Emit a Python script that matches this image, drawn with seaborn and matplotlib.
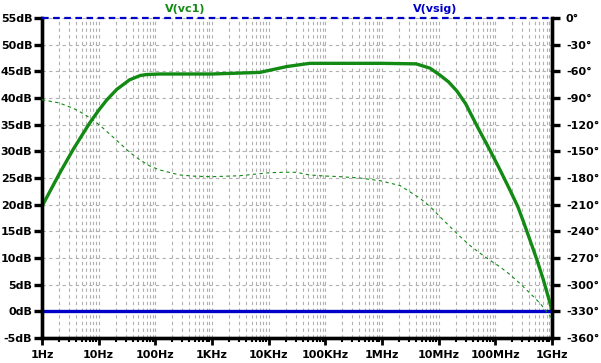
import numpy as np
import matplotlib
matplotlib.use("Agg")
import matplotlib.pyplot as plt
import matplotlib.ticker as mticker
import seaborn as sns

# V(vc1) magnitude (dB)
mag_freq = [1, 2, 3.57, 5, 7.03, 10, 13.8, 20.8, 35, 53.6, 70, 120, 1e3, 7e3, 21e3, 53e3,
            1e6, 4e6, 7e6, 10.5e6, 15e6, 21e6, 30e6, 40e6, 50e6, 80e6, 120e6, 181e6,
            250e6, 311e6, 420e6, 536e6, 700e6, 920e6, 1e9]
mag_db = [19.7, 25.7, 30.4, 32.9, 35.4, 37.7, 39.6, 41.6, 43.4, 44.2, 44.4, 44.5, 44.5,
          44.8, 45.9, 46.5, 46.5, 46.4, 45.6, 44.3, 43.0, 41.3, 38.9, 36.3, 34.3, 30.25,
          26.6, 22.75, 19.6, 16.9, 13.0, 9.8, 6.0, 1.6, 0.0]

# V(vc1) phase (deg)
ph_freq = [1, 2, 3.57, 5, 8, 12, 23.8, 35, 53.6, 80, 120, 270, 500, 1e3, 3e3, 10.6e3,
           20e3, 31e3, 53e3, 100e3, 182e3, 400e3, 0.92e6, 2.1e6, 4.7e6, 7e6, 10.5e6,
           16e6, 24e6, 35e6, 54e6, 80e6, 120e6, 180e6, 270e6, 400e6, 615e6, 800e6, 1e9]
ph_deg = [-92, -95.5, -101.6, -106.5, -114.7, -124, -141, -151, -159.7, -166.5, -171,
          -176.6, -178, -178.5, -177.5, -174, -173.5, -173.6, -176.6, -177.8, -178.5,
          -180, -183, -188.6, -202.9, -212, -223.5, -235, -246, -255.5, -264.7, -272.5,
          -279.8, -288.5, -298.5, -309, -321, -330, -338]

# V(vsig): flat 0 dB / 0 deg
sig_freq = [1, 1e9]
sig_db = [0, 0]
sig_deg = [0, 0]

freq_ticks = [1, 10, 100, 1e3, 1e4, 1e5, 1e6, 1e7, 1e8, 1e9]
freq_labels = ["1Hz", "10Hz", "100Hz", "1KHz", "10KHz", "100KHz", "1MHz", "10MHz", "100MHz", "1GHz"]
db_ticks = list(range(-5, 56, 5))
deg_ticks = list(range(-360, 1, 30))

GREEN = "#138a13"
BLUE = "#0000c8"

sns.set_style("white")
plt.rcParams["font.family"] = ["DejaVu Sans"]

fig = plt.figure(figsize=(6.01, 3.63), dpi=100)
ax = fig.add_axes([42 / 601, 25 / 363, 510 / 601, 320 / 363])
ax2 = ax.twinx()

ax.set_xscale("log")
ax.set_xlim(1, 1e9)
ax.set_ylim(-5, 55)
ax2.set_ylim(-360, 0)

# grid
ax.set_xticks(freq_ticks)
ax.xaxis.set_minor_locator(mticker.LogLocator(base=10, subs=np.arange(2, 10), numticks=20))
ax.xaxis.set_minor_formatter(mticker.NullFormatter())
ax.grid(True, which="both", axis="x", color="#b0b0b0", linestyle=(0, (3, 3)), linewidth=0.8)
ax.grid(True, which="major", axis="y", color="#b0b0b0", linestyle=(0, (3, 3)), linewidth=0.8)

sns.lineplot(x=mag_freq, y=mag_db, ax=ax, color=GREEN, linewidth=2.4, zorder=5)
sns.lineplot(x=sig_freq, y=sig_db, ax=ax, color=BLUE, linewidth=2.4, zorder=6)
sns.lineplot(x=ph_freq, y=ph_deg, ax=ax2, color=GREEN, linewidth=0.8,
             linestyle=(0, (3, 3)), zorder=5)
line = sns.lineplot(x=sig_freq, y=sig_deg, ax=ax2, color=BLUE, linewidth=1.6,
                    linestyle=(0, (3, 2)), zorder=6).lines[-1]
line.set_clip_on(False)

ax.set_xticklabels(freq_labels)
ax.set_yticks(db_ticks)
ax.set_yticklabels([f"{v}dB" for v in db_ticks])
ax2.set_yticks(deg_ticks)
ax2.set_yticklabels([f"{v}°" for v in deg_ticks])

for a in (ax, ax2):
    for s in ("left", "right", "bottom"):
        a.spines[s].set_linewidth(2.4)
        a.spines[s].set_color("black")
    a.spines["top"].set_visible(False)
    a.set_xlabel("")
    a.set_ylabel("")

ax.tick_params(axis="y", which="major", direction="out", length=6, width=2.4,
               labelsize=8, pad=1, left=True, color="black", labelcolor="black")
ax2.tick_params(axis="y", which="major", direction="out", length=6, width=2.4,
                labelsize=8, pad=4, right=True, color="black", labelcolor="black")
ax.tick_params(axis="x", which="major", direction="out", length=5, width=2, labelsize=8, pad=4,
               bottom=True, color="black", labelcolor="black")
ax.tick_params(axis="x", which="minor", direction="out", length=3, width=1.5, bottom=True,
               color="black")
for lab in ax.get_xticklabels() + ax.get_yticklabels() + ax2.get_yticklabels():
    lab.set_fontweight("bold")

fig.text(185 / 601, 1 - 9 / 363, "V(vc1)", color=GREEN, fontsize=8, fontweight="bold",
         ha="center", va="center")
fig.text(435 / 601, 1 - 9 / 363, "V(vsig)", color=BLUE, fontsize=8, fontweight="bold",
         ha="center", va="center")

fig.savefig("out.png", dpi=100, facecolor="white")
